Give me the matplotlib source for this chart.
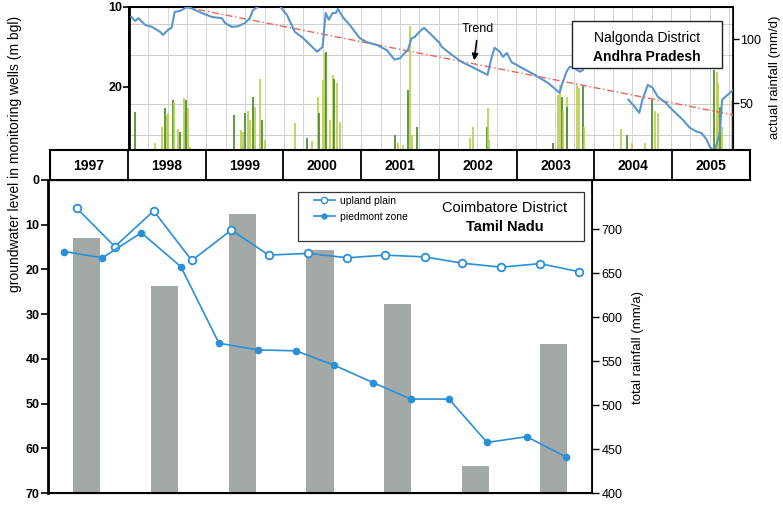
import numpy as np
import matplotlib
matplotlib.use("Agg")
import matplotlib.pyplot as plt
from matplotlib.patches import Rectangle
from matplotlib.lines import Line2D

plt.rcParams['font.family'] = ['Liberation Sans', 'DejaVu Sans']

# --- Nalgonda District: daily hydrograph of a monitoring well (m bgl) ---
hydro_years = [1998.03, 1998.08, 1998.12, 1998.21, 1998.30, 1998.40, 1998.44, 1998.50, 1998.55,
               1998.59, 1998.66, 1998.75, 1998.79, 1998.94, 1999.07, 1999.20, 1999.24, 1999.33,
               1999.41, 1999.50, 1999.56, 1999.60, 1999.66, 1999.75, 1999.92, 1999.99, 2000.04,
               2000.10, 2000.14, 2000.25, 2000.34, 2000.43, 2000.50, 2000.54, 2000.58, 2000.63,
               2000.67, 2000.70, 2000.76, 2000.85, 2000.98, 2001.07, 2001.20, 2001.33, 2001.43,
               2001.50, 2001.56, 2001.60, 2001.65, 2001.69, 2001.75, 2001.81, 2001.88, 2002.01,
               2002.04, 2002.17, 2002.30, 2002.43, 2002.55, 2002.63, 2002.68, 2002.72, 2002.79,
               2002.83, 2002.88, 2002.94, 2003.07, 2003.24, 2003.41, 2003.52, 2003.56, 2003.59,
               2003.65, 2003.69, 2003.75, 2003.82, 2003.86, 2004.10,
               2004.45, 2004.53, 2004.59, 2004.63, 2004.70, 2004.76, 2004.83, 2004.92, 2005.02,
               2005.15, 2005.24, 2005.33, 2005.39, 2005.46, 2005.50, 2005.56, 2005.63, 2005.66,
               2005.73, 2005.80]
hydro_depth = [11.25, 11.75, 11.4, 12.25, 12.5, 13.1, 13.5, 12.9, 12.6,
               10.6, 10.5, 10.0, 10.1, 10.75, 11.25, 11.4, 12.0, 12.5,
               12.4, 12.0, 11.4, 10.4, 10.0, 9.5, 9.5, 10.4, 11.0,
               12.25, 13.1, 13.9, 14.75, 15.6, 15.0, 10.75, 11.6, 10.75,
               10.75, 10.25, 11.25, 12.25, 13.9, 14.4, 14.75, 15.4, 16.6,
               16.4, 15.75, 15.4, 13.9, 13.75, 13.1, 12.6, 13.25, 14.5,
               15.0, 16.0, 16.9, 17.5, 18.1, 18.5, 16.4, 15.1, 15.6,
               16.25, 15.75, 16.9, 17.6, 18.5, 19.5, 20.4, 20.75, 19.75,
               18.1, 17.5, 17.6, 18.1, 17.9, np.nan,
               21.6, 22.5, 23.25, 21.6, 19.75, 20.1, 21.25, 21.9, 22.9,
               24.1, 25.1, 25.6, 25.75, 26.6, 27.5, 28.1, 25.75, 21.6,
               21.0, 20.4]

trend_years = [1998.72, 2005.80]
trend_depth = [10.0, 23.5]

# daily rainfall events (mm/d)
rain_days = [1998.08, 1998.34, 1998.43, 1998.46, 1998.49, 1998.50, 1998.57, 1998.58, 1998.63,
             1998.66, 1998.71, 1998.72, 1998.74, 1998.76, 1998.79,
             1999.35, 1999.45, 1999.47, 1999.50, 1999.54, 1999.56, 1999.60, 1999.63, 1999.69,
             1999.72, 1999.75, 2000.15,
             2000.30, 2000.36, 2000.44, 2000.46, 2000.50, 2000.53, 2000.55, 2000.59, 2000.63,
             2000.65, 2000.68, 2000.72,
             2001.43, 2001.47, 2001.54, 2001.60, 2001.63, 2001.66, 2001.72,
             2002.40, 2002.44, 2002.62, 2002.63, 2002.65,
             2003.47, 2003.54, 2003.56, 2003.59, 2003.60, 2003.65, 2003.66, 2003.78, 2003.81,
             2003.86, 2003.88,
             2004.36, 2004.43, 2004.50, 2004.66, 2004.75, 2004.79, 2004.83,
             2005.56, 2005.59, 2005.60, 2005.63, 2005.66, 2005.79]
rain_mm = [43, 19, 31, 46, 41, 42, 52, 51, 30,
           27, 54, 42, 52, 46, 16,
           41, 29, 27, 42, 44, 37, 55, 47, 69,
           37, 21, 34,
           23, 20, 55, 42, 68, 89, 90, 37, 72,
           69, 66, 35,
           25, 19, 17, 60, 110, 25, 31,
           23, 31, 31, 46, 21,
           19, 56, 64, 55, 44, 55, 47, 64, 62,
           64, 31,
           30, 25, 19, 19, 52, 44, 42,
           76, 74, 66, 47, 31, 52]

# --- Coimbatore District ---
years = [1997, 1998, 1999, 2000, 2001, 2002, 2003]
total_rain = [690, 636, 717, 676, 615, 431, 570]

upland_t = [1997.37, 1997.86, 1998.36, 1998.85, 1999.36, 1999.84, 2000.35, 2000.85,
            2001.34, 2001.85, 2002.33, 2002.83, 2003.33, 2003.83]
upland_gwl = [6.3, 14.9, 6.9, 18.0, 11.2, 16.8, 16.4, 17.4, 16.8, 17.2, 18.6, 19.5, 18.7, 20.5]

piedmont_t = [1997.21, 1997.70, 1998.20, 1998.71, 1999.20, 1999.70, 2000.19, 2000.68,
              2001.18, 2001.67, 2002.16, 2002.65, 2003.16, 2003.67]
piedmont_gwl = [16.0, 17.4, 11.8, 19.4, 36.5, 38.0, 38.2, 41.4, 45.3, 49.0, 49.0, 58.7, 57.4, 62.0]

band_years = list(range(1997, 2006))

W, H = 783, 508
fig = plt.figure(figsize=(W / 100, H / 100), dpi=100)


def fig_box(x0, y0, x1, y1):
    # pixel box (top-left origin) -> figure fraction rect
    return [x0 / W, 1 - y1 / H, (x1 - x0) / W, (y1 - y0) / H]


line_blue = '#2a8fd8'
hydro_blue = '#5a96cc'

# ---------------- top panel ----------------
ax_top = fig.add_axes(fig_box(129, 7, 733, 150))
ax_rain = ax_top.twinx()
ax_rain.set_zorder(ax_top.get_zorder() - 1)
ax_top.patch.set_visible(False)

ax_rain.set_xlim(1998.0, 2005.8)
ax_rain.set_ylim(13.3, 125)
for q in np.arange(1998.25, 2005.8, 0.25):
    ax_rain.axvline(q, color='#d4d4d4', lw=0.7, zorder=0)
for r in [25, 49, 87.5, 112]:
    ax_rain.axhline(r, color='#cdcdcd', lw=0.7, zorder=0)
bar_cols = ['#b9cc4a' if i % 3 else '#3f8a25' for i in range(len(rain_days))]
ax_rain.vlines(rain_days, 0, rain_mm, colors=bar_cols, lw=1.2, zorder=1)
ax_rain.set_yticks([50, 100])
ax_rain.tick_params(axis='y', labelsize=9, length=4, width=1, pad=1)

ax_top.plot(hydro_years, hydro_depth, color=hydro_blue, lw=1.5, zorder=3)
ax_top.plot(trend_years, trend_depth, color='#f06455', lw=1.0, ls=(0, (5, 2, 1, 2)), zorder=2)
ax_top.set_xlim(1998.0, 2005.8)
ax_top.set_ylim(27.9, 10)
ax_top.set_yticks([10, 20])
ax_top.set_xticks([])
ax_top.tick_params(axis='y', labelsize=9, length=4, width=1.2, pad=1)
for lab in ax_top.get_yticklabels():
    lab.set_fontweight('bold')
ax_top.spines['left'].set_linewidth(2.0)
ax_top.spines['top'].set_linewidth(1.5)
for sp in ax_rain.spines.values():
    sp.set_linewidth(1.2)

ax_top.annotate('Trend', xy=(0.571, 0.608), xytext=(0.578, 0.846), xycoords='axes fraction',
                ha='center', va='center', fontsize=9,
                arrowprops=dict(arrowstyle='-|>', color='black', lw=1.2, mutation_scale=9))
ax_top.add_patch(Rectangle((0.733, 0.573), 0.248, 0.329, transform=ax_top.transAxes,
                           facecolor='white', edgecolor='#222222', lw=1.0, zorder=5))
ax_top.text(0.858, 0.783, 'Nalgonda District', transform=ax_top.transAxes, ha='center',
            va='center', fontsize=10, zorder=6)
ax_top.text(0.858, 0.65, 'Andhra Pradesh', transform=ax_top.transAxes, ha='center',
            va='center', fontsize=10, fontweight='bold', zorder=6)

# ---------------- year band ----------------
band = fig.add_axes(fig_box(50, 150, 750, 180))
band.set_xlim(1997, 2006)
band.set_ylim(0, 1)
band.set_xticks([])
band.set_yticks([])
for y in band_years[1:]:
    band.axvline(y, color='black', lw=1.3)
for y in band_years:
    band.text(y + 0.5, 0.48, str(y), ha='center', va='center', fontsize=10, fontweight='bold')
for sp in band.spines.values():
    sp.set_linewidth(1.5)

# ---------------- lower panel ----------------
ax_low = fig.add_axes(fig_box(48, 180, 592, 493))
ax_tot = ax_low.twinx()
ax_tot.set_zorder(ax_low.get_zorder() - 1)
ax_low.patch.set_visible(False)

ax_tot.bar([y + 0.5 for y in years], [v - 400 for v in total_rain], bottom=400, width=0.35,
           color='#a3a9a6', edgecolor='none')
ax_tot.set_ylim(400, 756)
ax_tot.set_yticks([400, 450, 500, 550, 600, 650, 700])
ax_tot.tick_params(axis='y', labelsize=9, length=5, width=1, pad=2)

ax_low.plot(upland_t, upland_gwl, color=line_blue, lw=1.2, marker='o', ms=5.5,
            mfc='white', mec=line_blue, mew=1.3, label='upland plain', zorder=3)
ax_low.plot(piedmont_t, piedmont_gwl, color=line_blue, lw=1.2, marker='o', ms=4.5,
            mfc=line_blue, mec=line_blue, label='piedmont zone', zorder=3)
ax_low.set_xlim(1997, 2004)
ax_low.set_ylim(70, 0)
ax_low.set_yticks(range(0, 71, 10))
ax_low.set_xticks([])
ax_low.tick_params(axis='y', labelsize=9, length=5, width=1.2, pad=1)
for lab in ax_low.get_yticklabels():
    lab.set_fontweight('bold')
ax_low.spines['left'].set_linewidth(2.0)
ax_low.spines['bottom'].set_linewidth(1.5)
ax_tot.spines['right'].set_linewidth(1.3)

ax_low.add_patch(Rectangle((0.4596, 0.805), 0.5257, 0.1565, transform=ax_low.transAxes,
                           facecolor='white', edgecolor='#333333', lw=0.9, zorder=5))
handles = [Line2D([], [], color=line_blue, lw=1.2, marker='o', ms=4.5, mfc='white', mec=line_blue),
           Line2D([], [], color=line_blue, lw=1.2, marker='o', ms=3.5, mfc=line_blue, mec=line_blue)]
leg = ax_low.legend(handles, ['upland plain', 'piedmont zone'], loc='upper left',
                    bbox_to_anchor=(0.475, 0.972), frameon=False, fontsize=7.5,
                    handlelength=2.0, handletextpad=0.5, labelspacing=0.55, borderpad=0.2)
leg.set_zorder(6)
ax_low.text(0.84, 0.911, 'Coimbatore District', transform=ax_low.transAxes, ha='center',
            va='center', fontsize=10.5, zorder=6)
ax_low.text(0.84, 0.85, 'Tamil Nadu', transform=ax_low.transAxes, ha='center',
            va='center', fontsize=10.5, fontweight='bold', zorder=6)

# axis titles
fig.text(15 / W, 1 - 154 / H, 'groundwater level in monitoring wells (m bgl)', rotation=90,
         ha='center', va='center', fontsize=10)
fig.text(775 / W, 1 - 77 / H, 'actual rainfall (mm/d)', rotation=90,
         ha='center', va='center', fontsize=9.5)
fig.text(638 / W, 1 - 348 / H, 'total rainfall (mm/a)', rotation=90,
         ha='center', va='center', fontsize=9.5)

fig.savefig('out.png', dpi=100)
